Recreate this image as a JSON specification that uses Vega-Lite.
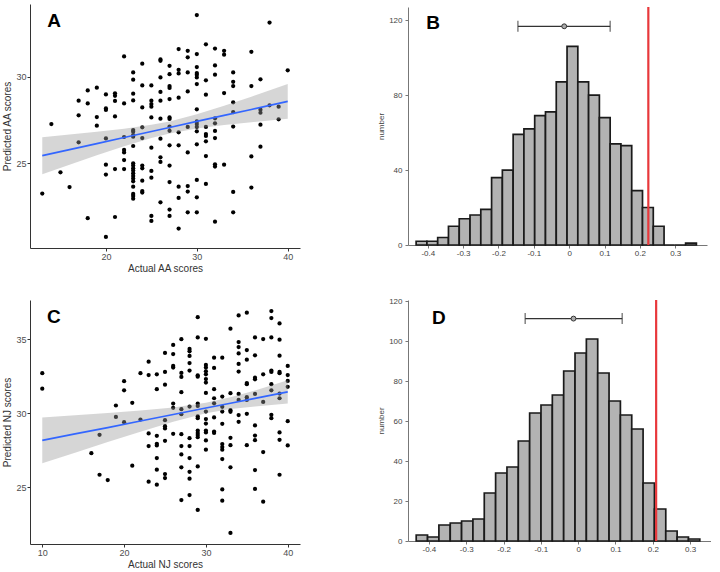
{
"$schema": "https://vega.github.io/schema/vega-lite/v6.json",
"background": "white",
"padding": {"left": 2, "top": 4, "right": 0, "bottom": 0},
"config": {
  "view": {"stroke": null},
  "font": "Liberation Sans",
  "axis": {"grid": false, "domainColor": "#333333", "tickColor": "#333333", "labelColor": "#4d4d4d", "titleColor": "#333333", "titleFontWeight": "normal", "labelFontSize": 9, "titleFontSize": 10, "tickSize": 3, "labelPadding": 1, "labelFont": "Liberation Sans", "titleFont": "Liberation Sans"}
},
"datasets": {
  "A": [
    {"x":13,"y":23.25},{"x":14,"y":27.27},{"x":15,"y":24.48},{"x":16,"y":23.63},
    {"x":17,"y":28.62},{"x":17,"y":27.77},{"x":17,"y":26.21},
    {"x":18,"y":29.21},{"x":18,"y":28.46},{"x":18,"y":21.83},
    {"x":19,"y":29.37},{"x":19,"y":27.67},{"x":19,"y":27.17},
    {"x":20,"y":28.98},{"x":20,"y":28.17},{"x":20,"y":28.08},{"x":20,"y":26.44},{"x":20,"y":24.92},{"x":20,"y":24.35},{"x":20,"y":20.75},
    {"x":21,"y":29.04},{"x":21,"y":28.9},{"x":21,"y":28.6},{"x":21,"y":27.71},{"x":21,"y":24.67},{"x":21,"y":21.9},
    {"x":22,"y":31.17},{"x":22,"y":28.46},{"x":22,"y":26.52},{"x":22,"y":25.77},{"x":22,"y":25.63},{"x":22,"y":25.19},{"x":22,"y":24.67},
    {"x":23,"y":30.25},{"x":23,"y":29.83},{"x":23,"y":29.02},{"x":23,"y":28.63},{"x":23,"y":26.92},{"x":23,"y":26.83},{"x":23,"y":26.63},{"x":23,"y":26.54},{"x":23,"y":26.0},{"x":23,"y":25.0},{"x":23,"y":24.87},{"x":23,"y":24.71},{"x":23,"y":24.58},{"x":23,"y":24.42},{"x":23,"y":24.27},{"x":23,"y":24.12},{"x":23,"y":23.96},{"x":23,"y":23.65},{"x":23,"y":23.23},{"x":23,"y":23.12},{"x":23,"y":22.96},
    {"x":24,"y":30.75},{"x":24,"y":29.5},{"x":24,"y":28.23},{"x":24,"y":27.08},{"x":24,"y":26.46},{"x":24,"y":24.87},{"x":24,"y":24.71},{"x":24,"y":24.0},{"x":24,"y":23.4},{"x":24,"y":23.31},
    {"x":25,"y":29.5},{"x":25,"y":28.62},{"x":25,"y":28.42},{"x":25,"y":28.27},{"x":25,"y":27.65},{"x":25,"y":25.9},{"x":25,"y":24.56},{"x":25,"y":24.17},{"x":25,"y":21.96},{"x":25,"y":21.67},
    {"x":26,"y":31.0},{"x":26,"y":30.92},{"x":26,"y":29.96},{"x":26,"y":29.12},{"x":26,"y":28.62},{"x":26,"y":27.58},{"x":26,"y":26.42},{"x":26,"y":25.35},{"x":26,"y":25.08},{"x":26,"y":22.75},
    {"x":27,"y":30.63},{"x":27,"y":30.15},{"x":27,"y":29.46},{"x":27,"y":29.35},{"x":27,"y":28.71},{"x":27,"y":27.65},{"x":27,"y":27.56},{"x":27,"y":27.12},{"x":27,"y":26.88},{"x":27,"y":26.04},{"x":27,"y":24.87},{"x":27,"y":23.92},{"x":27,"y":22.33},{"x":27,"y":21.96},
    {"x":28,"y":31.6},{"x":28,"y":30.4},{"x":28,"y":30.19},{"x":28,"y":28.79},{"x":28,"y":26.79},{"x":28,"y":26.04},{"x":28,"y":23.65},{"x":28,"y":23.0},{"x":28,"y":21.23},
    {"x":29,"y":31.5},{"x":29,"y":31.12},{"x":29,"y":30.25},{"x":29,"y":29.15},{"x":29,"y":27.1},{"x":29,"y":25.63},{"x":29,"y":23.69},{"x":29,"y":23.37},{"x":29,"y":22.17},
    {"x":30,"y":33.56},{"x":30,"y":31.31},{"x":30,"y":30.56},{"x":30,"y":30.21},{"x":30,"y":30.12},{"x":30,"y":29.96},{"x":30,"y":29.58},{"x":30,"y":28.12},{"x":30,"y":27.42},{"x":30,"y":27.27},{"x":30,"y":27.1},{"x":30,"y":26.85},{"x":30,"y":26.1},{"x":30,"y":24.04},{"x":30,"y":23.04},{"x":30,"y":22.17},
    {"x":31,"y":31.87},{"x":31,"y":29.79},{"x":31,"y":28.96},{"x":31,"y":27.1},{"x":31,"y":26.69},{"x":31,"y":26.58},{"x":31,"y":26.27},{"x":31,"y":25.42},{"x":31,"y":23.81},
    {"x":32,"y":31.63},{"x":32,"y":30.65},{"x":32,"y":30.12},{"x":32,"y":27.6},{"x":32,"y":27.31},{"x":32,"y":26.87},{"x":32,"y":26.46},{"x":32,"y":24.94},{"x":32,"y":24.81},{"x":32,"y":21.63},
    {"x":33,"y":31.5},{"x":33,"y":31.27},{"x":33,"y":29.06},{"x":33,"y":24.92},
    {"x":34,"y":30.25},{"x":34,"y":29.71},{"x":34,"y":29.46},{"x":34,"y":28.52},{"x":34,"y":27.96},{"x":34,"y":27.12},{"x":34,"y":23.35},{"x":34,"y":22.17},
    {"x":36,"y":31.44},{"x":36,"y":29.46},{"x":36,"y":25.4},{"x":36,"y":23.6},
    {"x":37,"y":29.85},{"x":37,"y":28.1},{"x":37,"y":27.92},{"x":37,"y":27.23},{"x":37,"y":25.96},
    {"x":38,"y":33.13},{"x":38,"y":28.35},
    {"x":39,"y":28.27},{"x":39,"y":27.54},
    {"x":40,"y":30.37}
  ],
  "Afit": [
    {"x":13,"fit":25.44,"lo":24.37,"hi":26.51},{"x":16,"fit":25.79,"lo":24.92,"hi":26.66},{"x":19,"fit":26.14,"lo":25.47,"hi":26.82},{"x":22,"fit":26.49,"lo":25.99,"hi":26.99},{"x":25,"fit":26.84,"lo":26.46,"hi":27.22},{"x":27,"fit":27.07,"lo":26.72,"hi":27.42},{"x":30,"fit":27.42,"lo":27.01,"hi":27.83},{"x":33,"fit":27.77,"lo":27.21,"hi":28.33},{"x":36,"fit":28.11,"lo":27.37,"hi":28.85},{"x":40,"fit":28.58,"lo":27.58,"hi":29.58}
  ],
  "C": [
    {"x":10,"y":32.7},{"x":10,"y":31.66},{"x":16,"y":27.3},{"x":17,"y":28.54},{"x":17,"y":25.84},{"x":18,"y":25.48},
    {"x":19,"y":30.52},{"x":19,"y":29.75},
    {"x":20,"y":32.16},{"x":20,"y":31.55},{"x":20,"y":29.39},
    {"x":21,"y":30.7},{"x":21,"y":26.45},
    {"x":22,"y":32.7},{"x":22,"y":29.57},
    {"x":23,"y":33.48},{"x":23,"y":32.58},{"x":23,"y":28.63},{"x":23,"y":27.78},{"x":23,"y":25.37},
    {"x":24,"y":32.63},{"x":24,"y":31.62},{"x":24,"y":28.47},{"x":24,"y":27.93},{"x":24,"y":27.82},{"x":24,"y":26.97},{"x":24,"y":26.18},{"x":24,"y":25.17},
    {"x":25,"y":34.07},{"x":25,"y":32.79},{"x":25,"y":31.93},{"x":25,"y":29.53},{"x":25,"y":29.12},{"x":25,"y":28.97},{"x":25,"y":28.13},{"x":25,"y":25.89},{"x":25,"y":25.62},
    {"x":26,"y":34.61},{"x":26,"y":34.0},{"x":26,"y":33.19},{"x":26,"y":33.08},{"x":26,"y":30.65},{"x":26,"y":30.36},{"x":26,"y":28.61},
    {"x":27,"y":35.0},{"x":27,"y":32.72},{"x":27,"y":32.45},{"x":27,"y":31.42},{"x":27,"y":30.27},{"x":27,"y":29.93},{"x":27,"y":28.58},{"x":27,"y":27.78},{"x":27,"y":27.21},{"x":27,"y":26.34},{"x":27,"y":24.13},
    {"x":28,"y":34.34},{"x":28,"y":34.18},{"x":28,"y":33.87},{"x":28,"y":33.39},{"x":28,"y":32.88},{"x":28,"y":30.45},{"x":28,"y":28.31},{"x":28,"y":27.78},{"x":28,"y":26.97},{"x":28,"y":26.04},{"x":28,"y":25.57},{"x":28,"y":24.47},
    {"x":29,"y":36.49},{"x":29,"y":35.12},{"x":29,"y":32.56},{"x":29,"y":32.47},{"x":29,"y":30.65},{"x":29,"y":30.49},{"x":29,"y":29.78},{"x":29,"y":29.66},{"x":29,"y":28.83},{"x":29,"y":28.67},{"x":29,"y":28.52},{"x":29,"y":28.38},{"x":29,"y":26.4},{"x":29,"y":23.46},
    {"x":30,"y":35.03},{"x":30,"y":33.26},{"x":30,"y":33.08},{"x":30,"y":32.83},{"x":30,"y":32.63},{"x":30,"y":32.31},{"x":30,"y":32.07},{"x":30,"y":31.37},{"x":30,"y":30.11},{"x":30,"y":29.6},{"x":30,"y":29.3},{"x":30,"y":28.83},{"x":30,"y":28.7},{"x":30,"y":28.16},{"x":30,"y":27.53},
    {"x":31,"y":33.75},{"x":31,"y":33.06},{"x":31,"y":31.62},{"x":31,"y":31.01},{"x":31,"y":30.67},{"x":31,"y":29.71},{"x":31,"y":28.76},{"x":31,"y":28.67},
    {"x":32,"y":33.75},{"x":32,"y":31.12},{"x":32,"y":30.43},{"x":32,"y":30.11},{"x":32,"y":29.28},{"x":32,"y":27.91},{"x":32,"y":27.71},{"x":32,"y":27.53},{"x":32,"y":26.9},{"x":32,"y":24.85},{"x":32,"y":24.09},
    {"x":33,"y":35.71},{"x":33,"y":31.35},{"x":33,"y":30.2},{"x":33,"y":30.09},{"x":33,"y":28.34},{"x":33,"y":27.84},{"x":33,"y":26.34},{"x":33,"y":21.91},
    {"x":34,"y":36.61},{"x":34,"y":34.81},{"x":34,"y":34.47},{"x":34,"y":34.04},{"x":34,"y":33.33},{"x":34,"y":32.81},{"x":34,"y":31.3},{"x":34,"y":30.9},{"x":34,"y":29.87},{"x":34,"y":29.42},
    {"x":35,"y":36.79},{"x":35,"y":34.27},{"x":35,"y":33.62},{"x":35,"y":32.04},{"x":35,"y":31.96},{"x":35,"y":31.08},{"x":35,"y":30.9},{"x":35,"y":29.96},{"x":35,"y":27.84},
    {"x":36,"y":35.12},{"x":36,"y":33.91},{"x":36,"y":32.4},{"x":36,"y":32.29},{"x":36,"y":31.3},{"x":36,"y":29.17},{"x":36,"y":28.49},{"x":36,"y":28.18},{"x":36,"y":26.16},{"x":36,"y":24.88},
    {"x":37,"y":35.01},{"x":37,"y":32.63},{"x":37,"y":30.76},{"x":37,"y":27.37},{"x":37,"y":24.02},
    {"x":38,"y":36.9},{"x":38,"y":36.43},{"x":38,"y":35.12},{"x":38,"y":32.88},{"x":38,"y":32.79},{"x":38,"y":31.96},{"x":38,"y":31.55},{"x":38,"y":29.89},{"x":38,"y":29.66},
    {"x":39,"y":36.07},{"x":39,"y":34.97},{"x":39,"y":33.89},{"x":39,"y":32.79},{"x":39,"y":32.7},{"x":39,"y":31.33},{"x":39,"y":31.01},{"x":39,"y":28.7},{"x":39,"y":28.2},{"x":39,"y":25.84},
    {"x":40,"y":33.19},{"x":40,"y":32.58},{"x":40,"y":32.18},{"x":40,"y":31.78},{"x":40,"y":29.46},{"x":40,"y":27.82}
  ],
  "Cfit": [
    {"x":10,"fit":28.16,"lo":26.61,"hi":29.71},{"x":14,"fit":28.6,"lo":27.33,"hi":29.86},{"x":18,"fit":29.03,"lo":28.05,"hi":30.02},{"x":22,"fit":29.47,"lo":28.75,"hi":30.19},{"x":26,"fit":29.91,"lo":29.43,"hi":30.39},{"x":30,"fit":30.35,"lo":30.0,"hi":30.7},{"x":33,"fit":30.67,"lo":30.28,"hi":31.07},{"x":36,"fit":31.0,"lo":30.46,"hi":31.54},{"x":40,"fit":31.44,"lo":30.66,"hi":32.22}
  ],
  "B": [
    {"x0":-0.433,"x1":-0.4025,"n":2},{"x0":-0.4025,"x1":-0.372,"n":2},{"x0":-0.372,"x1":-0.3415,"n":4},{"x0":-0.3415,"x1":-0.311,"n":10},{"x0":-0.311,"x1":-0.2805,"n":14},{"x0":-0.2805,"x1":-0.25,"n":16},{"x0":-0.25,"x1":-0.2195,"n":19},{"x0":-0.2195,"x1":-0.189,"n":36},{"x0":-0.189,"x1":-0.1585,"n":40},{"x0":-0.1585,"x1":-0.128,"n":59},{"x0":-0.128,"x1":-0.0975,"n":62},{"x0":-0.0975,"x1":-0.067,"n":69},{"x0":-0.067,"x1":-0.0365,"n":71},{"x0":-0.0365,"x1":-0.006,"n":87},{"x0":-0.006,"x1":0.0245,"n":106},{"x0":0.0245,"x1":0.055,"n":87},{"x0":0.055,"x1":0.0855,"n":80},{"x0":0.0855,"x1":0.116,"n":68},{"x0":0.116,"x1":0.1465,"n":54},{"x0":0.1465,"x1":0.177,"n":53},{"x0":0.177,"x1":0.2075,"n":29},{"x0":0.2075,"x1":0.238,"n":20},{"x0":0.238,"x1":0.2685,"n":10},{"x0":0.2685,"x1":0.299,"n":0},{"x0":0.299,"x1":0.3295,"n":0},{"x0":0.3295,"x1":0.36,"n":1}
  ],
  "Bstat": [{"obs":0.224,"lo":-0.145,"hi":0.116,"m":-0.014,"ey":116.7}],
  "D": [
    {"x0":-0.434,"x1":-0.4036,"n":3},{"x0":-0.4036,"x1":-0.3732,"n":2},{"x0":-0.3732,"x1":-0.3428,"n":8},{"x0":-0.3428,"x1":-0.3124,"n":9},{"x0":-0.3124,"x1":-0.282,"n":10},{"x0":-0.282,"x1":-0.2516,"n":11},{"x0":-0.2516,"x1":-0.2212,"n":24},{"x0":-0.2212,"x1":-0.1908,"n":34},{"x0":-0.1908,"x1":-0.1604,"n":37},{"x0":-0.1604,"x1":-0.13,"n":50},{"x0":-0.13,"x1":-0.0996,"n":64},{"x0":-0.0996,"x1":-0.0692,"n":68},{"x0":-0.0692,"x1":-0.0388,"n":73},{"x0":-0.0388,"x1":-0.0084,"n":85},{"x0":-0.0084,"x1":0.022,"n":94},{"x0":0.022,"x1":0.0524,"n":101},{"x0":0.0524,"x1":0.0828,"n":84},{"x0":0.0828,"x1":0.1132,"n":70},{"x0":0.1132,"x1":0.1436,"n":63},{"x0":0.1436,"x1":0.174,"n":56},{"x0":0.174,"x1":0.2044,"n":29},{"x0":0.2044,"x1":0.2348,"n":16},{"x0":0.2348,"x1":0.2652,"n":5},{"x0":0.2652,"x1":0.2956,"n":2},{"x0":0.2956,"x1":0.326,"n":1}
  ],
  "Dstat": [{"obs":0.209,"lo":-0.142,"hi":0.118,"m":-0.0125,"ey":111.2}]
},
"concat": [
  {
    "width": 270, "height": 244,
    "layer": [
      {"data": {"name": "A"}, "mark": {"type": "circle", "size": 18, "color": "black", "opacity": 1},
       "encoding": {
         "x": {"field": "x", "type": "quantitative", "scale": {"domain": [11.65, 41.35], "nice": false, "zero": false}, "axis": {"values": [20, 30, 40], "title": "Actual AA scores", "titlePadding": 2}},
         "y": {"field": "y", "type": "quantitative", "scale": {"domain": [20.11, 34.2], "nice": false, "zero": false}, "axis": {"values": [25, 30], "title": "Predicted AA scores", "titlePadding": 3}}}},
      {"data": {"name": "Afit"}, "mark": {"type": "area", "color": "#999999", "opacity": 0.4},
       "encoding": {"x": {"field": "x", "type": "quantitative"}, "y": {"field": "lo", "type": "quantitative"}, "y2": {"field": "hi"}}},
      {"data": {"name": "Afit"}, "mark": {"type": "line", "color": "#3366FF", "strokeWidth": 1.7},
       "encoding": {"x": {"field": "x", "type": "quantitative"}, "y": {"field": "fit", "type": "quantitative"}}},
      {"data": {"values": [{"lab": "A", "x": 14.29, "y": 33.22}]}, "mark": {"type": "text", "fontWeight": "bold", "fontSize": 19, "font": "Liberation Sans", "color": "black", "baseline": "middle"},
       "encoding": {"x": {"field": "x", "type": "quantitative"}, "y": {"field": "y", "type": "quantitative"}, "text": {"field": "lab"}}}
    ]
  },
  {
    "width": 299, "height": 238,
    "layer": [
      {"data": {"name": "B"}, "mark": {"type": "bar", "fill": "#b3b3b3", "stroke": "#1a1a1a", "strokeWidth": 1.7},
       "encoding": {
         "x": {"field": "x0", "type": "quantitative", "scale": {"domain": [-0.456, 0.39], "nice": false, "zero": false}, "axis": {"values": [-0.4, -0.3, -0.2, -0.1, 0, 0.1, 0.2, 0.3], "title": null, "labelExpr": "replace(format(datum.value, '~g'), '\u2212', '-')", "labelFontSize": 8, "labelColor": "#444444", "domainColor": "#777777", "tickColor": "#777777", "tickSize": 3, "labelPadding": 1}},
         "x2": {"field": "x1"},
         "y": {"field": "n", "type": "quantitative", "scale": {"domain": [0, 127], "nice": false}, "axis": {"values": [0, 20, 40, 60, 80, 100, 120], "title": "number", "titleFontSize": 8, "titlePadding": 3, "labelFontSize": 8, "labelColor": "#444444", "titleColor": "#444444", "domainColor": "#777777", "tickColor": "#777777", "tickSize": 3, "labelPadding": 3}},
         "y2": {"datum": 0}}},
      {"data": {"name": "Bstat"}, "mark": {"type": "rule", "color": "#e8383b", "strokeWidth": 2.2},
       "encoding": {"x": {"field": "obs", "type": "quantitative"}}},
      {"data": {"name": "Bstat"}, "mark": {"type": "rule", "color": "#333333", "strokeWidth": 1.3},
       "encoding": {"x": {"field": "lo", "type": "quantitative"}, "x2": {"field": "hi"}, "y": {"field": "ey", "type": "quantitative"}}},
      {"data": {"name": "Bstat"}, "mark": {"type": "tick", "orient": "vertical", "color": "#333333", "size": 11, "thickness": 1.3},
       "encoding": {"x": {"field": "lo", "type": "quantitative"}, "y": {"field": "ey", "type": "quantitative"}}},
      {"data": {"name": "Bstat"}, "mark": {"type": "tick", "orient": "vertical", "color": "#333333", "size": 11, "thickness": 1.3},
       "encoding": {"x": {"field": "hi", "type": "quantitative"}, "y": {"field": "ey", "type": "quantitative"}}},
      {"data": {"name": "Bstat"}, "mark": {"type": "point", "filled": true, "fill": "#aaaaaa", "stroke": "#333333", "strokeWidth": 1, "size": 24, "opacity": 1},
       "encoding": {"x": {"field": "m", "type": "quantitative"}, "y": {"field": "ey", "type": "quantitative"}}},
      {"data": {"values": [{"lab": "B", "x": -0.385, "y": 118.5}]}, "mark": {"type": "text", "fontWeight": "bold", "fontSize": 19, "font": "Liberation Sans", "color": "black", "baseline": "middle"},
       "encoding": {"x": {"field": "x", "type": "quantitative"}, "y": {"field": "y", "type": "quantitative"}, "text": {"field": "lab"}}}
    ]
  },
  {
    "width": 270, "height": 244,
    "layer": [
      {"data": {"name": "C"}, "mark": {"type": "circle", "size": 18, "color": "black", "opacity": 1},
       "encoding": {
         "x": {"field": "x", "type": "quantitative", "scale": {"domain": [8.5, 41.5], "nice": false, "zero": false}, "axis": {"values": [10, 20, 30, 40], "title": "Actual NJ scores", "titlePadding": 2}},
         "y": {"field": "y", "type": "quantitative", "scale": {"domain": [21.16, 37.65], "nice": false, "zero": false}, "axis": {"values": [25, 30, 35], "title": "Predicted NJ scores", "titlePadding": 3}}}},
      {"data": {"name": "Cfit"}, "mark": {"type": "area", "color": "#999999", "opacity": 0.4},
       "encoding": {"x": {"field": "x", "type": "quantitative"}, "y": {"field": "lo", "type": "quantitative"}, "y2": {"field": "hi"}}},
      {"data": {"name": "Cfit"}, "mark": {"type": "line", "color": "#3366FF", "strokeWidth": 1.7},
       "encoding": {"x": {"field": "x", "type": "quantitative"}, "y": {"field": "fit", "type": "quantitative"}}},
      {"data": {"values": [{"lab": "C", "x": 11.43, "y": 36.5}]}, "mark": {"type": "text", "fontWeight": "bold", "fontSize": 19, "font": "Liberation Sans", "color": "black", "baseline": "middle"},
       "encoding": {"x": {"field": "x", "type": "quantitative"}, "y": {"field": "y", "type": "quantitative"}, "text": {"field": "lab"}}}
    ]
  },
  {
    "width": 303, "height": 241,
    "layer": [
      {"data": {"name": "D"}, "mark": {"type": "bar", "fill": "#b3b3b3", "stroke": "#1a1a1a", "strokeWidth": 1.7},
       "encoding": {
         "x": {"field": "x0", "type": "quantitative", "scale": {"domain": [-0.456, 0.356], "nice": false, "zero": false}, "axis": {"values": [-0.4, -0.3, -0.2, -0.1, 0, 0.1, 0.2, 0.3], "title": null, "labelExpr": "replace(format(datum.value, '~g'), '\u2212', '-')", "labelFontSize": 8, "labelColor": "#444444", "domainColor": "#777777", "tickColor": "#777777", "tickSize": 3, "labelPadding": 1}},
         "x2": {"field": "x1"},
         "y": {"field": "n", "type": "quantitative", "scale": {"domain": [0, 120.5], "nice": false}, "axis": {"values": [0, 20, 40, 60, 80, 100, 120], "title": "number", "titleFontSize": 8, "titlePadding": 3, "labelFontSize": 8, "labelColor": "#444444", "titleColor": "#444444", "domainColor": "#777777", "tickColor": "#777777", "tickSize": 3, "labelPadding": 3}},
         "y2": {"datum": 0}}},
      {"data": {"name": "Dstat"}, "mark": {"type": "rule", "color": "#e8383b", "strokeWidth": 2.2},
       "encoding": {"x": {"field": "obs", "type": "quantitative"}}},
      {"data": {"name": "Dstat"}, "mark": {"type": "rule", "color": "#333333", "strokeWidth": 1.3},
       "encoding": {"x": {"field": "lo", "type": "quantitative"}, "x2": {"field": "hi"}, "y": {"field": "ey", "type": "quantitative"}}},
      {"data": {"name": "Dstat"}, "mark": {"type": "tick", "orient": "vertical", "color": "#333333", "size": 11, "thickness": 1.3},
       "encoding": {"x": {"field": "lo", "type": "quantitative"}, "y": {"field": "ey", "type": "quantitative"}}},
      {"data": {"name": "Dstat"}, "mark": {"type": "tick", "orient": "vertical", "color": "#333333", "size": 11, "thickness": 1.3},
       "encoding": {"x": {"field": "hi", "type": "quantitative"}, "y": {"field": "ey", "type": "quantitative"}}},
      {"data": {"name": "Dstat"}, "mark": {"type": "point", "filled": true, "fill": "#aaaaaa", "stroke": "#333333", "strokeWidth": 1, "size": 24, "opacity": 1},
       "encoding": {"x": {"field": "m", "type": "quantitative"}, "y": {"field": "ey", "type": "quantitative"}}},
      {"data": {"values": [{"lab": "D", "x": -0.373, "y": 111.5}]}, "mark": {"type": "text", "fontWeight": "bold", "fontSize": 19, "font": "Liberation Sans", "color": "black", "baseline": "middle"},
       "encoding": {"x": {"field": "x", "type": "quantitative"}, "y": {"field": "y", "type": "quantitative"}, "text": {"field": "lab"}}}
    ]
  }
],
"columns": 2,
"bounds": "flush",
"align": "each",
"center": true,
"spacing": {"row": 52, "column": 108}
}
